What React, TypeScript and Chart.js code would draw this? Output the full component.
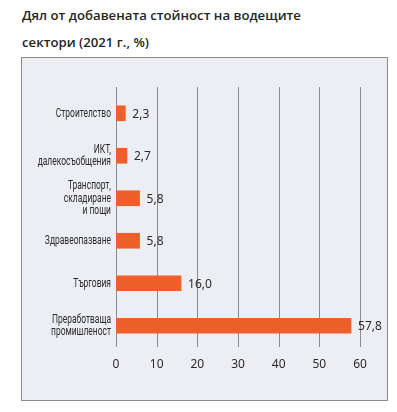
import React, { useEffect, useRef } from "react";
import { Chart, registerables } from "chart.js";

Chart.register(...registerables);

const titleLines = ["Дял от добавената стойност на водещите", "сектори (2021 г., %)"];
const categories: string[][] = [
  ["Строителство"],
  ["ИКТ,", "далекосъобщения"],
  ["Транспорт,", "складиране", "и пощи"],
  ["Здравеопазване"],
  ["Търговия"],
  ["Преработваща", "промишленост"],
];
const values = [2.3, 2.7, 5.8, 5.8, 16.0, 57.8];
const xTicks = [0, 10, 20, 30, 40, 50, 60];

const BAR_COLOR = "#ef5f2b";
const GRID_COLOR = "#8a8a8a";
const TEXT_COLOR = "#2b2b2b";
const LABEL_FONT = "13px Roboto, 'Noto Sans', sans-serif";
const LABEL_SCALE = 0.65;
const SANS = "'Noto Sans', 'Open Sans', sans-serif";

const gridPlugin = {
  id: "customGrid",
  beforeDatasetsDraw(chart: any) {
    const { ctx, chartArea, scales } = chart;
    const xs = scales.x;
    ctx.save();
    ctx.strokeStyle = GRID_COLOR;
    ctx.lineWidth = 1;
    xTicks.forEach((t) => {
      const px = Math.round(xs.getPixelForValue(t)) + 0.5;
      ctx.beginPath();
      ctx.moveTo(px, chartArea.top - 5);
      ctx.lineTo(px, chartArea.bottom);
      ctx.stroke();
    });
    ctx.restore();
  },
};

const labelPlugin = {
  id: "labels",
  afterDatasetsDraw(chart: any) {
    const { ctx, chartArea, scales } = chart;
    const meta = chart.getDatasetMeta(0);
    ctx.save();
    ctx.fillStyle = TEXT_COLOR;
    ctx.font = `12px ${SANS}`;
    ctx.textAlign = "left";
    ctx.textBaseline = "middle";
    meta.data.forEach((bar: any, i: number) => {
      const txt = values[i].toFixed(1).replace(".", ",");
      ctx.fillText(txt, bar.x + 7, bar.y + 1);
    });
    ctx.restore();

    // category labels, condensed
    ctx.save();
    ctx.fillStyle = TEXT_COLOR;
    ctx.font = LABEL_FONT;
    ctx.textAlign = "right";
    ctx.textBaseline = "middle";
    const lh = 12.5;
    const xRight = chartArea.left - 5;
    categories.forEach((lines, i) => {
      const cy = scales.y.getPixelForValue(i);
      const y0 = cy - ((lines.length - 1) * lh) / 2;
      lines.forEach((ln, j) => {
        ctx.save();
        ctx.translate(xRight, y0 + j * lh);
        ctx.scale(LABEL_SCALE, 1);
        ctx.fillText(ln, 0, 0);
        ctx.restore();
      });
    });
    ctx.restore();
  },
};

export default function App() {
  const canvasRef = useRef<HTMLCanvasElement | null>(null);

  useEffect(() => {
    if (!canvasRef.current) return;
    const chart = new Chart(canvasRef.current, {
      type: "bar",
      data: {
        labels: categories.map((c) => c.join(" ")),
        datasets: [
          {
            data: values,
            backgroundColor: BAR_COLOR,
            barThickness: 15,
            borderWidth: 0,
          },
        ],
      },
      options: {
        indexAxis: "y",
        animation: false,
        responsive: false,
        maintainAspectRatio: false,
        layout: { padding: { top: 34, right: 26, left: 0, bottom: 0 } },
        plugins: {
          legend: { display: false },
          tooltip: { enabled: false },
          title: { display: false },
        },
        scales: {
          x: {
            min: 0,
            max: 60,
            grid: { display: false, drawTicks: false },
            border: { display: false },
            afterFit: (scale: any) => {
              scale.height = 52;
            },
            afterBuildTicks: (scale: any) => {
              scale.ticks = xTicks.map((v) => ({ value: v }));
            },
            ticks: {
              padding: 10,
              color: TEXT_COLOR,
              font: { family: SANS, size: 12 },
            },
          },
          y: {
            grid: { display: false, drawTicks: false },
            border: { display: false },
            afterFit: (scale: any) => {
              scale.width = 94;
            },
            ticks: { display: false },
          },
        },
      },
      plugins: [gridPlugin, labelPlugin],
    });
    return () => chart.destroy();
  }, []);

  return (
    <div style={{ position: "absolute", left: 0, top: 0, width: 397, height: 412, background: "#fff" }}>
      {titleLines.map((line, i) => (
        <div
          key={i}
          style={{
            position: "absolute",
            left: 22,
            top: i === 0 ? 6 : 33,
            fontFamily: "'Open Sans', sans-serif",
            fontWeight: 600,
            fontSize: 13.2,
            lineHeight: "18px",
            color: "#262626",
            whiteSpace: "nowrap",
          }}
        >
          {line}
        </div>
      ))}
      <div
        style={{
          position: "absolute",
          left: 21,
          top: 57,
          width: 365,
          height: 342,
          border: "1px solid #8c8c8c",
          background: "#eceef4",
        }}
      >
        <canvas ref={canvasRef} width={364} height={341} style={{ display: "block", width: 364, height: 341 }} />
      </div>
    </div>
  );
}
